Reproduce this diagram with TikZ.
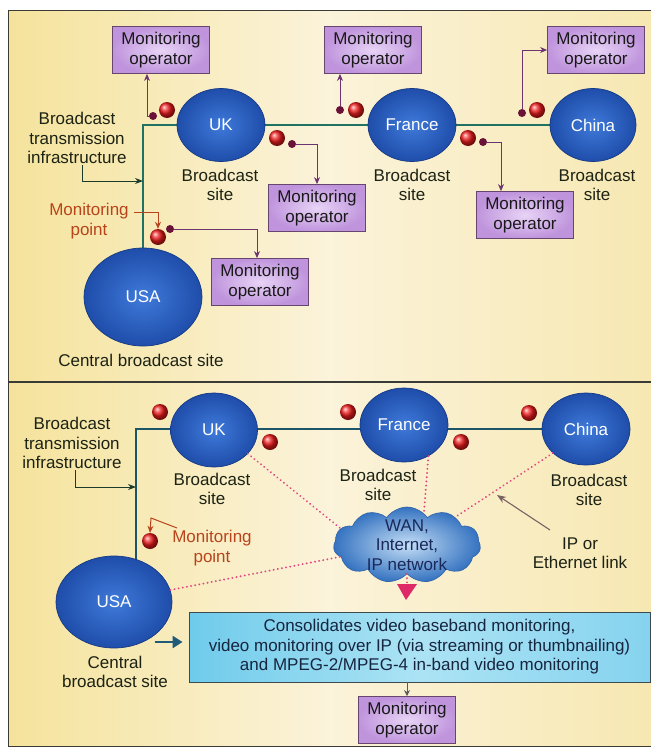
\documentclass[tikz,border=0pt]{standalone}
\usepackage{fontspec}
\setmainfont{Liberation Sans}
\usetikzlibrary{arrows.meta,shapes.geometric,shapes.symbols,calc}
\definecolor{panelY}{HTML}{F5E39C}
\definecolor{panelC}{HTML}{FBF3DA}
\definecolor{panelR}{HTML}{F7E8B2}
\definecolor{frameC}{HTML}{3A3A36}
\definecolor{lineTeal}{HTML}{207262}
\definecolor{lineBlue}{HTML}{1C5468}
\definecolor{siteIn}{HTML}{3F7ADA}
\definecolor{siteOut}{HTML}{1F4DAA}
\definecolor{siteEdge}{HTML}{163A86}
\definecolor{dotRed}{HTML}{F01C1C}
\definecolor{dotMaroon}{HTML}{6A1238}
\definecolor{opIn}{HTML}{E8D4F6}
\definecolor{opOut}{HTML}{BF94DC}
\definecolor{opEdge}{HTML}{66466F}
\definecolor{opLine}{HTML}{6E3472}
\definecolor{txt}{HTML}{1C2214}
\definecolor{mpRed}{HTML}{B8441C}
\definecolor{infraC}{HTML}{1D3B2A}
\definecolor{pinkDot}{HTML}{E2457E}
\definecolor{pinkTri}{HTML}{DE2868}
\definecolor{cloudIn}{HTML}{C4DEF5}
\definecolor{cloudOut}{HTML}{3472C0}
\definecolor{cloudEdge}{HTML}{2F62A8}
\definecolor{cloudTxt}{HTML}{1A285A}
\definecolor{boxL}{HTML}{6FCBEB}
\definecolor{boxM}{HTML}{ACE3F4}
\definecolor{boxR}{HTML}{86D3EF}
\definecolor{boxEdge}{HTML}{3D4B50}
\definecolor{boxTxt}{HTML}{17253F}
\definecolor{ipArrow}{HTML}{7A6262}
\definecolor{usaArrow}{HTML}{1F5A78}
\definecolor{grayArrow}{HTML}{5A5A5A}
\begin{document}
\begin{tikzpicture}[x=1pt,y=-1pt,
  font=\fontsize{17}{19.5}\selectfont,
  site/.style={ellipse, inner sep=0pt, draw=siteEdge, line width=0.7pt,
    inner color=siteIn, outer color=siteOut, text=white},
  rdot/.style={circle, inner sep=0pt, minimum size=16pt, ball color=dotRed},
  sdot/.style={circle, inner sep=0pt, minimum size=8pt, fill=dotMaroon},
  opbox/.style={rectangle, draw=opEdge, line width=0.8pt, inner color=opIn,
    outer color=opOut, minimum width=97pt, minimum height=47pt, inner sep=1pt,
    align=center, text=black!90},
  lab/.style={align=center, text=txt, inner sep=1pt},
  mplab/.style={align=center, text=mpRed, inner sep=1pt},
  oparrow/.style={draw=opLine, line width=1pt, -{Stealth[length=7pt,width=6pt]}},
  infarrow/.style={draw=infraC, line width=1pt, -{Stealth[length=8pt,width=6pt]}},
  mparrow/.style={draw=mpRed, line width=1pt, -{Stealth[length=7pt,width=6pt]}},
  netline/.style={line width=2.6pt},
  pinkdot/.style={draw=pinkDot, line width=2.1pt, dash pattern=on 0.01pt off 4.2pt, line cap=round},
  panel/.style={draw=frameC, line width=1pt}
]
\useasboundingbox (0,0) rectangle (651,747);
\fill[white] (0,0) rectangle (651,747);
% panels
\shade[left color=panelY, right color=panelR, middle color=panelC] (8,10) rectangle (651,381);
\shade[left color=panelY, right color=panelR, middle color=panelC] (8,383) rectangle (651,746);
\draw[panel] (651,10) -- (8,10) -- (8,746) -- (651,746);
\draw[frameC, line width=2pt] (8,382) -- (651,382);

% ================= TOP PANEL =================
\coordinate (c1) at (143,125);
\coordinate (usaTop1) at (143,297);
\coordinate (chinaEnd1) at (593,125);
\draw[lineTeal, netline] (usaTop1) -- (c1) -- (chinaEnd1);

\node[site, minimum width=118pt, minimum height=98pt] (usa1) at (143,297) {USA};
\node[site, minimum width=88pt, minimum height=73pt] (uk1) at (221,125) {UK};
\node[site, minimum width=88pt, minimum height=73pt] (fr1) at (412,125) {France};
\node[site, minimum width=86pt, minimum height=73pt] (cn1) at (593,125) {China};

\node[lab] (infra1) at (77,138) {Broadcast\\transmission\\infrastructure};
\coordinate (i1) at (143,181);
\draw[infarrow] ([xshift=5pt]infra1.south) |- (i1);

\node[lab] (bs1) at (220,185) {Broadcast\\site};
\node[lab] (bsf1) at (412,185) {Broadcast\\site};
\node[lab] (bsc1) at (597,185) {Broadcast\\site};
\node[lab] (cent1) at (141,360) {Central broadcast site};

\node[opbox] (op1) at (161,50) {Monitoring\\operator};
\node[opbox] (op2) at (317,208) {Monitoring\\operator};
\node[opbox] (op3) at (373,50) {Monitoring\\operator};
\node[opbox] (op4) at (525,215) {Monitoring\\operator};
\node[opbox] (op5) at (596,50) {Monitoring\\operator};
\node[opbox] (op6) at (260,282) {Monitoring\\operator};

\node[rdot] (b1) at (167,110) {};
\node[sdot] (s1) at (153,116) {};
\node[rdot] (b2) at (277,138) {};
\node[sdot] (s2) at (292,144) {};
\node[rdot] (b3) at (356,110) {};
\node[sdot] (s3) at (340,110) {};
\node[rdot] (b4) at (468,138) {};
\node[sdot] (s4) at (483,142) {};
\node[rdot] (b5) at (537,110) {};
\node[sdot] (s5) at (522,113) {};
\node[rdot] (b6) at (158,237) {};
\node[sdot] (s6) at (170,229) {};

\draw[oparrow] (s1.west) -| ($(op1.south)+(-14,0)$);
\draw[oparrow] (s2.east) -| (op2.north);
\draw[oparrow] (s3.north) -- (s3 |- op3.south);
\draw[oparrow] (s4.east) -| ($(op4.north)+(-24,0)$);
\draw[oparrow] (s5.north) |- (op5.west);
\draw[oparrow] (s6.east) -| ($(op6.north)+(-3,0)$);

\node[mplab] (mp1) at (89,221) {Monitoring\\point};
\coordinate (mpa1) at (134,212);
\draw[mparrow] (mpa1) -| (b6.north);

% ================= BOTTOM PANEL =================
\coordinate (c2) at (136,429);
\coordinate (c2b) at (136,575);
\coordinate (chinaEnd2) at (586,429);
\draw[lineBlue, netline] (c2b) -- (c2) -- (chinaEnd2);

\node[site, minimum width=116pt, minimum height=92pt] (usa2) at (114,602) {USA};
\node[site, minimum width=87pt, minimum height=74pt] (uk2) at (214,430) {UK};
\node[site, minimum width=88pt, minimum height=74pt] (fr2) at (404,425) {France};
\node[site, minimum width=88pt, minimum height=72pt] (cn2) at (586,429) {China};

\node[rdot] (d1) at (160,412) {};
\node[rdot] (d2) at (270,442) {};
\node[rdot] (d3) at (348,412) {};
\node[rdot] (d4) at (461,442) {};
\node[rdot] (d5) at (529,413) {};
\node[rdot] (d6) at (150,541) {};

\node[lab] (infra2) at (72,443) {Broadcast\\transmission\\infrastructure};
\coordinate (i2) at (136,487);
\draw[infarrow] ([xshift=3pt]infra2.south) |- (i2);

\node[lab] (bsu2) at (212,489) {Broadcast\\site};
\node[lab] (bsf2) at (378,485) {Broadcast\\site};
\node[lab] (bsc2) at (589,490) {Broadcast\\site};

\node[mplab] (mp2) at (212,548) {Monitoring\\point};
\coordinate (mpa2) at (177,528);
\coordinate (mpb2) at (151,518);
\draw[mparrow] (mpa2) -- (mpb2) -- (d6.north);

\node[cloud, cloud puffs=11, cloud puff arc=110, aspect=2, minimum width=147pt,
  minimum height=76pt, inner sep=0pt, draw=cloudEdge, line width=0.6pt,
  inner color=cloudIn, outer color=cloudOut] (cloud) at (407,545) {};
\node[align=center, text=cloudTxt, inner sep=0pt] (cloudtxt) at (cloud.center) {WAN,\\Internet,\\IP network};

\draw[pinkdot] (uk2.-35) -- (cloud.166);
\draw[pinkdot] (fr2.-52) -- (cloud.62);
\draw[pinkdot] (cn2.216) -- (cloud.30);
\draw[pinkdot] (usa2.12) -- (cloud.190);

\node[rectangle, draw=boxEdge, line width=0.9pt, left color=boxL, right color=boxR,
  middle color=boxM, minimum width=461pt, minimum height=70pt, align=center,
  text=boxTxt, inner sep=1pt] (bigbox) at (419.5,647)
  {Consolidates video baseband monitoring,\\video monitoring over IP (via streaming or thumbnailing)\\and MPEG-2/MPEG-4 in-band video monitoring};

\draw[pinkdot] (cloud.south) -- ++(0,9);
\draw[draw=none, fill=pinkTri] ($(cloud.south)+(-10,10)$) -- ($(cloud.south)+(10,10)$) -- ($(cloud.south)+(-1,26)$) -- cycle;

\node[lab] (iplab) at (580,553) {IP or\\Ethernet link};
\coordinate (ipa) at (550,530);
\coordinate (ipb) at (497,495);
\draw[ipArrow, line width=1.1pt, -{Stealth[length=9pt,width=7pt]}] (ipa) -- (ipb);

\node[lab] (cent2) at (115,672) {Central\\broadcast site};
\draw[usaArrow, line width=2.4pt, -{Triangle[length=10pt,width=12pt]}]
  ($(bigbox.west)+(-34,-5)$) -- ($(bigbox.west)+(-6,-5)$);

\node[opbox] (op7) at (407,720) {Monitoring\\operator};
\draw[grayArrow, line width=1pt, -{Stealth[length=6pt,width=6pt]}] (bigbox.south -| op7.north) -- (op7.north);
\end{tikzpicture}
\end{document}
